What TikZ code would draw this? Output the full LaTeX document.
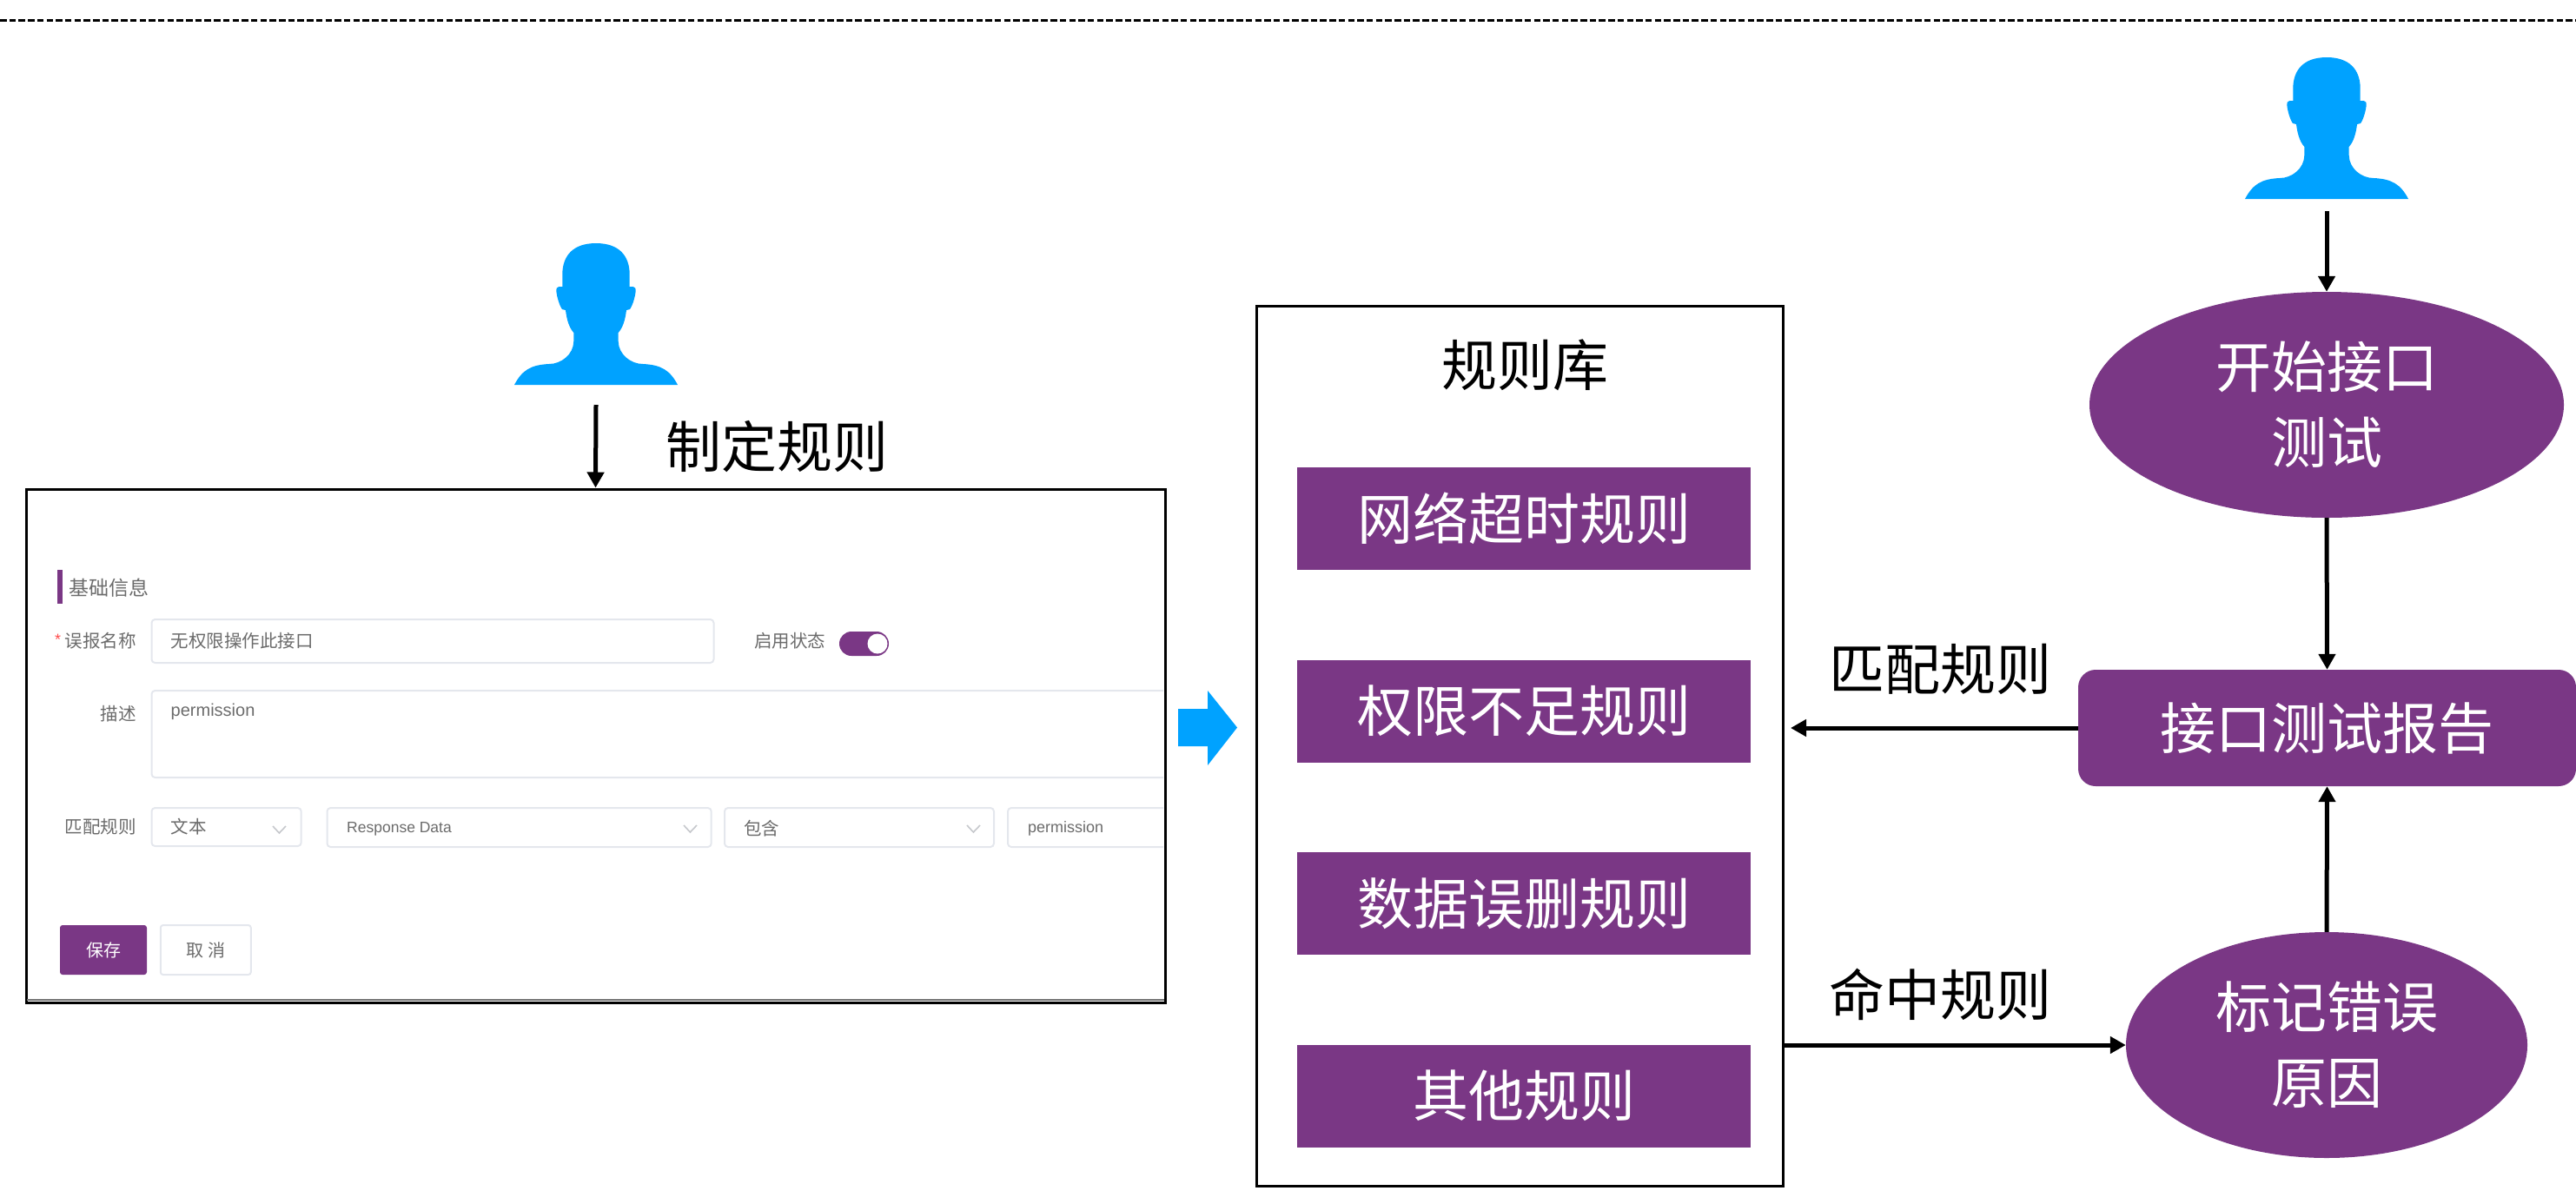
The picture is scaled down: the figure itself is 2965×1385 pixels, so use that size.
\documentclass[tikz,border=0pt]{standalone}
\usepackage{fontspec}
\setmainfont{Noto Sans CJK SC}
\newfontfamily\latinui{Liberation Sans}
\usetikzlibrary{shapes.geometric,arrows.meta,calc}
\definecolor{brandpurple}{HTML}{7A3785}
\definecolor{iconblue}{HTML}{00A2FF}
\definecolor{fieldline}{HTML}{E4E7ED}
\definecolor{uitext}{HTML}{6B6B6B}
\tikzset{
  x=1pt,y=-1pt,
  bigtext/.style={font=\fontsize{64}{76}\selectfont,inner sep=0pt,align=center},
  rulebar/.style={fill=brandpurple,text=white,minimum width=522pt,minimum height=118pt,inner sep=0pt,font=\fontsize{64}{76}\selectfont},
  stepell/.style={ellipse,fill=brandpurple,text=white,inner sep=0pt,align=center,font=\fontsize{64}{87}\selectfont},
  flow/.style={line width=5pt,-{Triangle[length=18pt,width=19pt]}},
  uilabel/.style={font=\fontsize{20.5}{24}\selectfont,text=uitext,inner sep=0pt},
  uilatin/.style={font=\latinui\fontsize{20}{24}\selectfont,text=uitext,inner sep=0pt},
  field/.style={draw=fieldline,line width=2pt,rounded corners=4pt},
  chev/.style={draw=fieldline!70!gray,line width=1.6pt},
  personicon/.pic={
    \fill[iconblue] (0,0) .. controls (26,0) and (38.7,14) .. (38.7,36) -- (38.7,50) -- (42.7,50)
      .. controls (45.5,50) and (46,53) .. (45.7,55) .. controls (45,62) and (42,72) .. (39,76)
      -- (35,77) .. controls (34,85) and (32,96) .. (25.7,103) -- (25.7,113)
      .. controls (26,128) and (40,139) .. (54,139) .. controls (75,140) and (85,146) .. (94,163)
      -- (-94,163) .. controls (-85,146) and (-75,140) .. (-54,139) .. controls (-40,139) and (-26,128) .. (-25.7,113)
      -- (-25.7,103) .. controls (-32,96) and (-34,85) .. (-35,77) -- (-39,76)
      .. controls (-42,72) and (-45,62) .. (-45.7,55) .. controls (-46,53) and (-45.5,50) .. (-42.7,50)
      -- (-38.7,50) -- (-38.7,36) .. controls (-38.7,14) and (-26,0) .. (0,0) -- cycle;
    \coordinate (-foot) at (0,#1);
  }
}
\begin{document}
\begin{tikzpicture}
\useasboundingbox (0,0) rectangle (2965,1385);
% top dashed rule
\coordinate (ruleL) at (0,23);
\coordinate (ruleR) at (2965,23);
\draw[line width=3pt,dash pattern=on 7.5pt off 3.2pt] (ruleL) -- (ruleR);

% persons
\pic (pa) at (686,280) {personicon=186};
\pic (pb) at (2678,66) {personicon=177};

% form panel
\node[draw=black,line width=3pt,minimum width=1311pt,minimum height=591pt,inner sep=0pt] (form) at (685.5,858.5) {};
\coordinate (fbl) at (31,1151);
\coordinate (fbr) at (1340,1151);
\draw[line width=2.5pt,draw=black!55] (fbl) -- (fbr);
\fill[brandpurple] (65.7,656) rectangle (71.6,695);
\node[uilabel,font=\fontsize{23}{27}\selectfont,anchor=west] (t0) at (79,677) {基础信息};
\node[uilabel,text=red!70,anchor=center,font=\latinui\fontsize{18}{20}\selectfont] (star) at (66.6,736) {*};
\node[uilabel,anchor=east] (t1) at (157,738) {误报名称};
\draw[field] (174.5,713) rectangle (821.5,763);
\node[uilabel,anchor=west] (t2) at (196.5,738) {无权限操作此接口};
\node[uilabel,anchor=west] (t3) at (868,738) {启用状态};
\fill[brandpurple,rounded corners=14pt] (966,727) rectangle (1023,755);
\fill[white] (1010,741) circle (11.5);
\node[uilabel,anchor=east] (t4) at (157,822) {描述};
\draw[field] (1339,795) -- (174.5,795) -- (174.5,895) -- (1339,895);
\node[uilatin,anchor=west] (t5) at (196.5,819) {permission};
\node[uilabel,anchor=east] (t6) at (157,952) {匹配规则};
\draw[field] (174.5,930) rectangle (346.7,974);
\node[uilabel,anchor=west] (t7) at (196.5,952) {文本};
\draw[chev] (314,951) -- (321.4,959) -- (329,951);
\draw[field] (376.5,930) rectangle (818.7,975);
\node[uilatin,font=\latinui\fontsize{17.5}{20}\selectfont,anchor=west] (t8) at (399,954) {Response Data};
\draw[chev] (787,950) -- (794.4,958) -- (802,950);
\draw[field] (834,930) rectangle (1144,975);
\node[uilabel,anchor=west] (t9) at (856,954) {包含};
\draw[chev] (1113,950) -- (1120.4,958) -- (1128,950);
\draw[field] (1339,930) -- (1160,930) -- (1160,975) -- (1339,975);
\node[uilatin,font=\latinui\fontsize{18}{20}\selectfont,anchor=west] (t10) at (1183,954) {permission};
\node[fill=brandpurple,rounded corners=3pt,text=white,minimum width=100pt,minimum height=57pt,inner sep=0pt,font=\fontsize{20}{24}\selectfont] (save) at (119,1093.5) {保存};
\node[draw=fieldline,line width=2pt,rounded corners=3pt,text=uitext,minimum width=104pt,minimum height=57pt,inner sep=0pt,font=\fontsize{20}{24}\selectfont] (cancel) at (236.8,1093.5) {取 消};

% label and arrow to form
\node[bigtext] (mk) at (894,514) {制定规则};
\draw[flow] (pa-foot) -- (form.north);

% blue arrow
\fill[iconblue] (1356,816) -- (1390,816) -- (1390,795) -- (1424,837.5) -- (1390,881) -- (1390,859) -- (1356,859) -- cycle;

% rule library
\node[draw=black,line width=3pt,minimum width=606pt,minimum height=1013pt,inner sep=0pt] (lib) at (1749,858.5) {};
\node[bigtext] (libt) at (1755,420) {规则库};
\node[rulebar] (r1) at (1754,596.5) {网络超时规则};
\node[rulebar] (r2) at (1754,818.5) {权限不足规则};
\node[rulebar] (r3) at (1754,1040) {数据误删规则};
\node[rulebar] (r4) at (1754,1261.5) {其他规则};

% right column
\node[stepell,minimum width=546pt,minimum height=260pt] (e1) at (2678,466) {开始接口\\测试};
\node[fill=brandpurple,text=white,rounded corners=20pt,minimum width=573pt,minimum height=134pt,inner sep=0pt,font=\fontsize{64}{76}\selectfont] (rep) at (2678.5,838) {接口测试报告};
\node[stepell,minimum width=462pt,minimum height=260pt] (e2) at (2678,1203) {标记错误\\原因};

\draw[flow] (pb-foot) -- (e1.north);
\draw[flow] (e1.south) -- (rep.north);
\draw[flow] (e2.north) -- (rep.south);
\coordinate (hitL) at (2061,838);
\draw[flow] (rep.west) -- (hitL);
\draw[flow] (lib.east |- e2.west) -- (e2.west);
\node[bigtext] (lb1) at (2233,770) {匹配规则};
\node[bigtext] (lb2) at (2233,1145) {命中规则};
\end{tikzpicture}
\end{document}
